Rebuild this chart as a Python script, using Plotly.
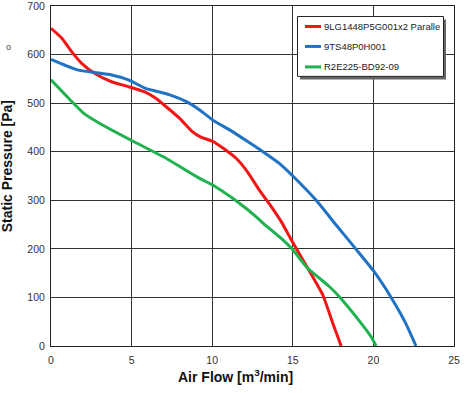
import plotly.graph_objects as go

red_name = "9LG1448P5G001x2 Paralle"
blue_name = "9TS48P0H001"
green_name = "R2E225-BD92-09"

red_x = [0, 0.66, 1.28, 1.9, 2.72, 3.76, 4.8, 5.82, 6.5, 7.2, 8.0, 8.71, 9.3, 10.05, 10.77, 11.5, 12.2, 12.9, 13.6, 14.3, 15.0, 15.93, 16.86, 17.48, 18.0]
red_y = [654, 634, 606, 582, 561, 544, 534, 523, 510, 491, 468, 443, 430, 421, 405, 386, 358, 322, 290, 255, 213, 160, 105, 47, 0]

blue_x = [0, 0.87, 1.69, 2.72, 3.76, 4.8, 5.82, 6.6, 7.37, 8.4, 9.22, 10.05, 11.08, 12.2, 13.15, 14.2, 15.0, 16.45, 17.69, 18.93, 20.0, 21.1, 22.0, 22.64]
blue_y = [590, 578, 568, 563, 558, 548, 531, 524, 517, 503, 486, 465, 445, 421, 400, 375, 350, 300, 249, 199, 155, 100, 47, 0]

green_x = [0, 1.18, 2.0, 3.03, 5.0, 7.0, 9.22, 10.05, 11.4, 12.84, 13.15, 14.2, 15.0, 15.93, 17.28, 17.9, 18.93, 19.86, 20.17]
green_y = [548, 507, 480, 458, 423, 389, 345, 331, 301, 263, 253, 224, 198, 160, 122, 101, 60, 19, 0]

x_ticks = [0, 5, 10, 15, 20, 25]
y_ticks = [0, 100, 200, 300, 400, 500, 600, 700]

colors = {"red": "#f21515", "blue": "#1f72c4", "green": "#1fb24f"}
series = [
    (red_name, red_x, red_y, colors["red"]),
    (blue_name, blue_x, blue_y, colors["blue"]),
    (green_name, green_x, green_y, colors["green"]),
]

fig = go.Figure()
for nm, xs, ys, col in series:
    fig.add_trace(go.Scatter(x=xs, y=ys, name=nm, mode="lines", showlegend=False,
                             hoverinfo="skip",
                             line=dict(color=col, width=3, shape="spline", smoothing=0.5)))

axis_common = dict(showgrid=True, gridcolor="#333333", gridwidth=1,
                   showline=True, linecolor="#222222", linewidth=1, mirror=True,
                   zeroline=False, ticks="", automargin=False, ticklabeloverflow="allow",
                   tickfont=dict(family="Liberation Sans, Arial", size=10.5, color="#333333"))

fig.update_xaxes(range=[0, 25], tickvals=x_ticks, ticktext=[str(v) for v in x_ticks],
                 ticklabelstandoff=4, **axis_common)
fig.update_yaxes(range=[0, 700], tickvals=y_ticks, ticktext=[str(v) for v in y_ticks],
                 ticklabelstandoff=3, **axis_common)

pl, pr, pt, pb = 51, 454, 5.5, 346
W, H = 470, 393


def fx(px):
    return (px - pl) / (pr - pl)


def fy(py):
    return (pb - py) / (pb - pt)


fig.update_layout(
    width=W, height=H,
    margin=dict(l=pl, r=W - pr, t=pt, b=H - pb, autoexpand=False),
    paper_bgcolor="white", plot_bgcolor="white",
    showlegend=False,
)

ann = [
    ("<b>Static Pressure [Pa]</b>", 6.5, 166.5, -90, 14, "#111111"),
    ("<b>Air Flow [m<sup>3</sup>/min]</b>", 235, 376, 0, 14, "#111111"),
    ("o", 8, 47, 0, 9, "#444444"),
]
for txt, px, py, ang, sz, col in ann:
    fig.add_annotation(text=txt, x=fx(px), y=fy(py), xanchor="center", yanchor="middle",
                       xref="paper", yref="paper", showarrow=False, textangle=ang,
                       font=dict(family="Liberation Sans, Arial", size=sz, color=col))

# manual legend: shadow, box, line samples, labels
fig.add_shape(type="rect", xref="paper", yref="paper",
              x0=fx(300), x1=fx(446), y0=fy(79), y1=fy(19),
              fillcolor="#666666", line=dict(width=0), layer="above")
fig.add_shape(type="rect", xref="paper", yref="paper",
              x0=fx(297.5), x1=fx(443.5), y0=fy(76), y1=fy(16),
              fillcolor="white", line=dict(width=1, color="#222222"), layer="above")
leg_y = [26, 46, 66.5]
for (nm, xs, ys, col), ly in zip(series, leg_y):
    fig.add_shape(type="line", xref="paper", yref="paper",
                  x0=fx(305), x1=fx(321), y0=fy(ly), y1=fy(ly),
                  line=dict(color=col, width=3), layer="above")
    fig.add_annotation(text=nm, x=fx(322), y=fy(ly), xref="paper", yref="paper",
                       xanchor="left", yanchor="middle", showarrow=False,
                       font=dict(family="Liberation Sans, Arial", size=9.5, color="#222222"))

fig.write_html("out.html", config={"displayModeBar": False},
               post_script="document.body.style.margin='0';document.body.style.padding='0';")
